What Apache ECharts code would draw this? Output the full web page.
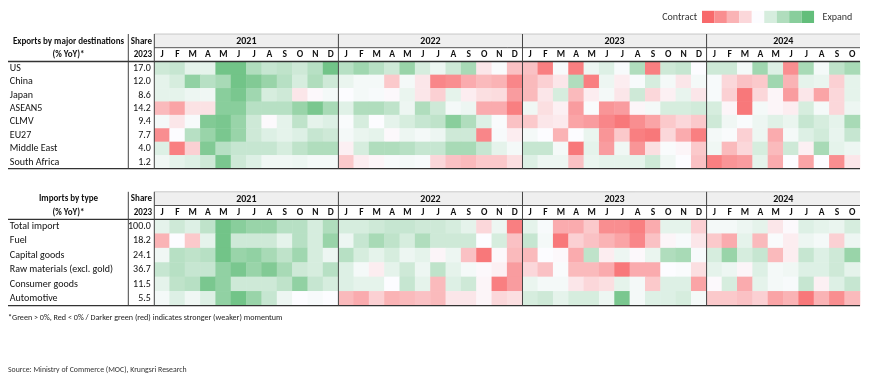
<!DOCTYPE html>
<html>
<head>
<meta charset="utf-8">
<script src="https://cdn.jsdelivr.net/npm/echarts@6/dist/echarts.min.js"></script>
<style>
html,body{margin:0;padding:0;background:#fff;}
#main{width:870px;height:379px;}
</style>
</head>
<body>
<div id="main"></div>
<script>
// ---------- data ----------
const years = ['2021', '2022', '2023', '2024'];
const monthsPerYear = [12, 12, 12, 10];
const monthLetters = ['J','F','M','A','M','J','J','A','S','O','N','D'];

const exportRows = ['US','China','Japan','ASEAN5','CLMV','EU27','Middle East','South Africa'];
const exportShare = ['17.0','12.0','8.6','14.2','9.4','7.7','4.0','1.2'];

const expUS = [3,3.5,1.5,1.5,9,9,5,3.5,4,3,4.5,9, 4.5,6,4.5,3,6.5,2.5,1,3,5.5,-1.5,0.2,-4, -4,-8.5,0.3,-8.5,1,2,0.3,5,-8.5,3,3.5,0, 3,3,0.5,6,2,-7.5,5.5,0.5,4,5.5];
const expChina = [1.5,2.5,7,4.5,5.5,9,8,6.5,4.5,2.5,5,3, 1.2,0.5,0.5,-3.5,0.5,-1.5,-8,-7.5,-5.5,-4.5,-5,-8, -4.5,-3,-1.5,5,-8.5,1,-1,0.3,2.5,0.5,-1.5,0.5, 0.3,-2.5,-4,-3.5,6,-5,1.5,1.2,-3,1.5];
const expJapan = [1.5,1.5,1,0.8,7.5,8.5,6,2.5,3,-1.5,-0.3,0.5, 0,0.5,0.3,-0.3,1.2,-1.5,-3,1.5,-1,-2,-2.2,-6.5, -4.5,-1.5,2.5,-4.5,-1,0.5,-1.5,3,-2.5,-0.8,1.3,-1.5, 0.3,-3,-9,-2.5,-0.5,-6.5,-1.5,-6,-2.5,1.5];
const expASEAN5 = [-4.5,-6,-1.8,-1.8,7.5,7.5,4.5,4.5,4.5,6.5,8.5,5.5, 1.8,5,5,4,1,5,3,0.5,1,-5.5,-5.5,-8.5, 0.8,-2,-0.8,-6.5,0.2,-7,-6.5,-0.5,0.5,2.5,2.5,2.8, 2.5,-0.5,-9,0.5,-0.5,-1,2.5,0.5,-2.5,1];
const expCLMV = [0.5,-1.5,0.3,8,8.5,6.5,3,-0.2,1.5,4,1.5,2, 0.2,2.5,0,1.5,2.5,3.5,4,7.5,5,2,0.2,-4, -3.5,-1.5,-1.2,-6,-6.5,-8,-9,-7.5,-6,-3.5,-2.5,-3.5, 3,0.8,0.2,1,1.8,1.2,3.5,2.5,1.5,5.5];
const expEU27 = [-7.5,0,4.5,6.5,8.5,6.5,3,2,1.5,2,3.5,3, 0.5,1.2,1.5,-0.3,1,0.5,1,3,3,-8,0.3,-1, 0.5,0,-5,0,1.2,-7,-3.5,-8.5,-9,-2.5,-5.5,-8.5, 0.5,0.2,-3,1,-5.5,0.5,2,2.8,1.3,3.5];
const expMiddleEast = [2,-8.5,-3,8,4.5,3.5,3.5,3.5,2.5,4,5,5, -0.8,2.5,5,5,4.5,3.5,3.5,5.5,5.5,3.5,1.5,0.5, 3.5,3.5,0.5,-9,1.5,-6.5,0.8,-7,-2,0.2,-0.5,-3.5, 0.8,-4.5,-2.5,2.5,-4.5,3,-0.8,5.5,1.5,1];
const expSouthAfrica = [0.8,1.5,2,3,8.5,3,2,0.8,0.8,1,0.5,0.5, -3.5,-1,-0.5,0.3,0.5,0.3,-2.5,-4,-4.5,-3.5,-3.5,-2, 2,1,1,-4,1.2,1.5,1.5,1.5,3,0.8,0,-4, -8.5,-7,-6.5,1.5,-5.5,0,-6,0,-7.5,-1.5];

const importRows = ['Total import','Fuel','Capital goods','Raw materials (excl. gold)','Consumer goods','Automotive'];
const importShare = ['100.0','18.2','24.1','36.7','11.5','5.5'];

const impTotal = [1.5,3,2,4,9,7.5,6.5,6.5,4.5,4.5,2.5,5, 2.5,2.5,3,3.5,3.5,3,3,2.5,1.5,-2.5,1,-8.5, 1.5,0.3,-5.5,-5.5,-3.5,-7.5,-7.5,-8.5,-5.5,1.5,1.5,-3, 0.5,0.5,1,1.5,-1.5,-0.2,2,1.5,1.2,2.5];
const impFuel = [-5,0,-3.5,1.5,9,3,3,3,1.5,4.5,2.5,6.5, 1,3.5,5.5,4,2.5,5,3,3,3,0,2.5,-4, 3.5,0.5,-9,-3,-4,-5,-6,-8,-4,-0.5,0.3,-1.5, -3.5,-5.5,1.5,-4.5,0.2,-1,1,0.5,-3,1];
const impCapital = [0.8,4.5,4,4.5,9,6.5,7,5.5,4,6,2.5,1, 4.5,2.5,1.5,2.5,1,1.5,-0.5,1,-4,-9,-0.3,-4.5, -4.5,0,-0.3,-5.5,4,-1,1,-0.3,1.2,5,5.5,0.3, 2.5,6.5,2.5,3.5,-4.5,-1,3.5,2,3,6.5];
const impRaw = [3.5,4.5,3.5,3.5,7,8.5,6.5,8,5.5,3,2.5,4.5, 2,0.5,-1,1.5,3,1,4,1.5,0.5,-0.3,-0.8,-6.5, -2.5,-4,0.2,-4.5,-4.5,-5.5,-9,-5.5,-5.5,0,0.2,-2, 1.5,1,-0.5,2,0.5,0.8,2,2,3,1.5];
const impConsumer = [1.5,4,4.5,8.5,7,3,3,3,4,7,3.5,2.5, 2,1.5,1.5,0,3.5,1.5,-4.5,2,3,-0.5,-8.5,-6.5, 1.2,0.5,0.5,-1.5,-2.5,-2,1.5,0.5,-3.5,2,2,-6, -0.2,2.5,-5.5,1.5,0.5,0.3,3.5,-0.8,2,3.5];
const impAuto = [0.5,2,0.8,2,7,9,6.5,3.5,1,0,0.3,0, -4.5,-5.5,-3,-5,-4.5,-4,-4.5,-1.5,-1.5,-0.5,-2.5,-2, 2.5,3,1.5,2.5,2.5,1,8.5,0.5,2,2,2.5,0.5, -3.5,-3.5,-4,-3,-6,-5,-9,-5,-7.5,-4.5];

const legendLevels = [-10,-7.5,-5,-2.5,0,2.5,5,7.5,10];

// ---------- build ----------
const FONT = 'Carlito, Lato, "Liberation Sans", sans-serif';
const colorStops = ['#F8696B','#FCFCFF','#63BE7B'];
const VMIN = -10, VMAX = 10;

const monthKeys = [];
years.forEach((y, yi) => {
  for (let m = 0; m < monthsPerYear[yi]; m++) monthKeys.push(y + '|' + monthLetters[m]);
});

const exportData = [expUS, expChina, expJapan, expASEAN5, expCLMV, expEU27, expMiddleEast, expSouthAfrica];
const importData = [impTotal, impFuel, impCapital, impRaw, impConsumer, impAuto];
function toCells(rows) {
  const out = [];
  rows.forEach((arr, r) => arr.forEach((v, c) => out.push([c, r, v])));
  return out;
}

function hex2rgb(h){h=h.replace('#','');return [parseInt(h.substr(0,2),16),parseInt(h.substr(2,2),16),parseInt(h.substr(4,2),16)];}
function colorFor(v){
  const t = (v - VMIN) / (VMAX - VMIN);
  let a, b, f;
  if (t <= 0.5) { a = hex2rgb(colorStops[0]); b = hex2rgb(colorStops[1]); f = t / 0.5; }
  else { a = hex2rgb(colorStops[1]); b = hex2rgb(colorStops[2]); f = (t - 0.5) / 0.5; }
  const c = a.map((x, i) => Math.round(x + (b[i] - x) * f));
  return 'rgb(' + c.join(',') + ')';
}

const G0 = {left: 154.3, top: 61.5, width: 705.7, height: 107.2};
const G1 = {left: 154.3, top: 219.3, width: 705.7, height: 86.4};

function xAxisFor(gi) {
  return {
    gridIndex: gi, type: 'category', position: 'top', data: monthKeys,
    axisLine: {show: false}, axisTick: {show: false}, splitLine: {show: false},
    axisLabel: {interval: 0, margin: 6.5, verticalAlign: 'middle', fontWeight: 'bold',
      fontSize: 9.5, color: '#111', fontFamily: FONT,
      formatter: v => v.split('|')[1]}
  };
}
function yAxesFor(gi, rows, shares) {
  return [{
    gridIndex: gi, type: 'category', inverse: true, data: rows, position: 'left', offset: 0,
    axisLine: {show: false}, axisTick: {show: false}, splitLine: {show: false},
    axisLabel: {align: 'left', margin: 144.5, fontSize: 10, color: '#111', fontFamily: FONT}
  }, {
    gridIndex: gi, type: 'category', inverse: true, data: rows, position: 'left', offset: 0,
    axisLine: {show: false}, axisTick: {show: false}, splitLine: {show: false},
    axisLabel: {align: 'right', margin: 3.5, fontSize: 10, color: '#111', fontFamily: FONT,
      formatter: (v, i) => shares[i]}
  }];
}

const chart = echarts.init(document.getElementById('main'), null, {renderer: 'canvas'});
chart.setOption({
  animation: false,
  backgroundColor: '#fff',
  textStyle: {fontFamily: FONT},
  grid: [G0, G1],
  xAxis: [xAxisFor(0), xAxisFor(1)],
  yAxis: yAxesFor(0, exportRows, exportShare).concat(yAxesFor(1, importRows, importShare)),
  visualMap: {show: false, type: 'continuous', min: VMIN, max: VMAX, dimension: 2,
    seriesIndex: [0, 1], inRange: {color: colorStops}},
  series: [
    {type: 'heatmap', xAxisIndex: 0, yAxisIndex: 0, data: toCells(exportData),
     itemStyle: {borderWidth: 0}, emphasis: {disabled: true}, progressive: 0},
    {type: 'heatmap', xAxisIndex: 1, yAxisIndex: 2, data: toCells(importData),
     itemStyle: {borderWidth: 0}, emphasis: {disabled: true}, progressive: 0}
  ]
});

// ---------- table decoration via axis pixel positions ----------
const g = [];
function tableDecor(gi, G, title1, yAxisIdx, nRows) {
  const xPx = i => chart.convertToPixel({xAxisIndex: gi}, i);
  const band = xPx(1) - xPx(0);
  const left = xPx(0) - band / 2;
  const right = xPx(monthKeys.length - 1) + band / 2;
  const yTop = chart.convertToPixel({yAxisIndex: yAxisIdx}, 0);
  const yBand = chart.convertToPixel({yAxisIndex: yAxisIdx}, 1) - yTop;
  const bodyTop = yTop - yBand / 2;
  const bodyBottom = chart.convertToPixel({yAxisIndex: yAxisIdx}, nRows - 1) + yBand / 2;
  const hTop = bodyTop - 27.5, hMid = bodyTop - 13.8;
  g.push({type: 'rect', shape: {x: left, y: hTop, width: right - left, height: hMid - hTop},
    style: {fill: '#efefef'}, z: 1});
  g.push({type: 'line', shape: {x1: left, y1: hTop, x2: right, y2: hTop}, style: {stroke: '#bdbdbd', lineWidth: 0.8}, z: 5});
  g.push({type: 'line', shape: {x1: left, y1: hMid, x2: right, y2: hMid}, style: {stroke: '#555', lineWidth: 1}, z: 5});
  g.push({type: 'line', shape: {x1: 8, y1: bodyTop, x2: right, y2: bodyTop}, style: {stroke: '#333', lineWidth: 1.3}, z: 5});
  g.push({type: 'line', shape: {x1: 8, y1: bodyBottom, x2: right, y2: bodyBottom}, style: {stroke: '#333', lineWidth: 1.3}, z: 5});
  const vx = [128.3, left];
  let idx = 0;
  years.forEach((y, yi) => {
    const first = idx, last = idx + monthsPerYear[yi] - 1;
    const cx = (xPx(first) + xPx(last)) / 2;
    g.push({type: 'text', x: cx, y: (hTop + hMid) / 2 + 0.5, style: {text: y, fill: '#111',
      font: 'bold 10px ' + FONT, textAlign: 'center', textVerticalAlign: 'middle'}, z: 6});
    if (yi > 0) vx.push(xPx(first) - band / 2);
    idx += monthsPerYear[yi];
  });
  vx.forEach(x => g.push({type: 'line', shape: {x1: x, y1: hTop, x2: x, y2: bodyBottom},
    style: {stroke: '#444', lineWidth: 1}, z: 6}));
  g.push({type: 'text', x: 68.5, y: (hTop + hMid) / 2 + 0.5, style: {text: title1, fill: '#111',
    font: 'bold 9px ' + FONT, textAlign: 'center', textVerticalAlign: 'middle'}, z: 6});
  g.push({type: 'text', x: 68.5, y: (hMid + bodyTop) / 2, style: {text: '(% YoY)*', fill: '#111',
    font: 'bold 9px ' + FONT, textAlign: 'center', textVerticalAlign: 'middle'}, z: 6});
  g.push({type: 'text', x: 152, y: (hTop + hMid) / 2 + 0.5, style: {text: 'Share', fill: '#111',
    font: 'bold 9px ' + FONT, textAlign: 'right', textVerticalAlign: 'middle'}, z: 6});
  g.push({type: 'text', x: 152, y: (hMid + bodyTop) / 2, style: {text: '2023', fill: '#111',
    font: 'bold 9px ' + FONT, textAlign: 'right', textVerticalAlign: 'middle'}, z: 6});
}
tableDecor(0, G0, 'Exports by major destinations', 0, exportRows.length);
tableDecor(1, G1, 'Imports by type', 2, importRows.length);

g.push({type: 'text', x: 697, y: 17, style: {text: 'Contract', fill: '#333', font: '10px ' + FONT,
  textAlign: 'right', textVerticalAlign: 'middle'}});
legendLevels.forEach((v, i) => g.push({type: 'rect',
  shape: {x: 702 + i * 12.45, y: 10.8, width: 12.45, height: 12.2}, style: {fill: colorFor(v)}}));
g.push({type: 'text', x: 822.5, y: 17, style: {text: 'Expand', fill: '#333', font: '10px ' + FONT,
  textAlign: 'left', textVerticalAlign: 'middle'}});
g.push({type: 'text', x: 8, y: 317.5, style: {text: '*Green > 0%, Red < 0% / Darker green (red) indicates stronger (weaker) momentum',
  fill: '#222', font: '8.1px ' + FONT, textAlign: 'left', textVerticalAlign: 'middle'}});
g.push({type: 'text', x: 8, y: 370, style: {text: 'Source: Ministry of Commerce (MOC), Krungsri Research',
  fill: '#333', font: '7.8px ' + FONT, textAlign: 'left', textVerticalAlign: 'middle'}});

chart.setOption({graphic: g});
</script>
</body>
</html>
